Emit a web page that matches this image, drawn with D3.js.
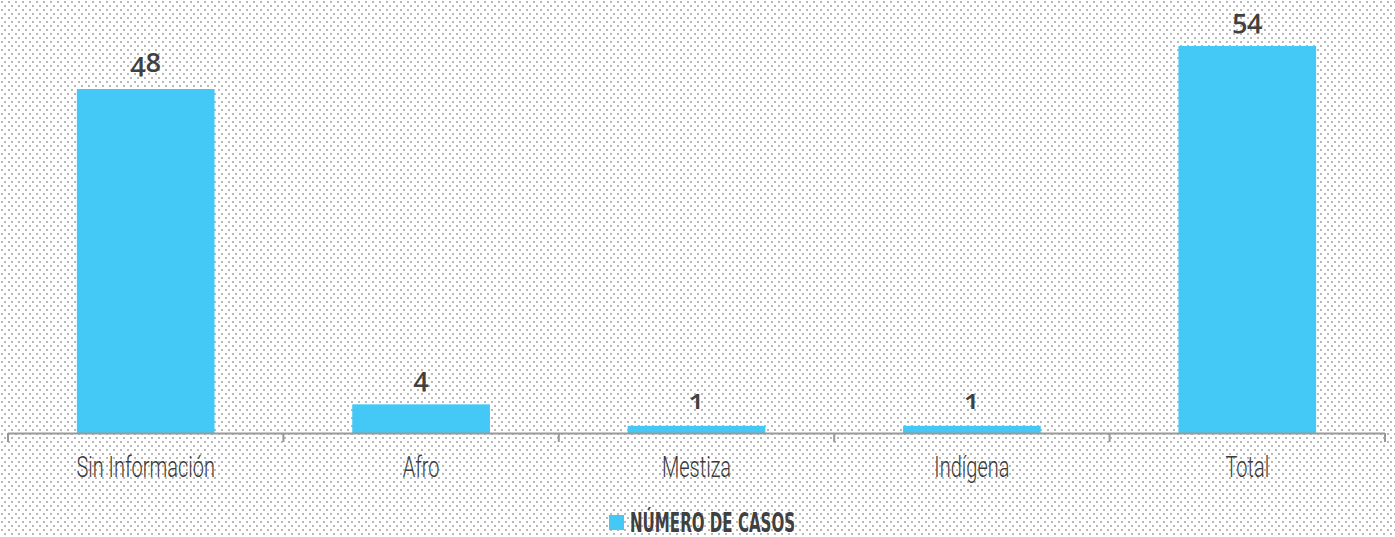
<!DOCTYPE html>
<html><head><meta charset="utf-8">
<script src="https://cdn.jsdelivr.net/npm/d3@7"></script>
<style>
html,body{margin:0;padding:0;background:#fff;}
svg{display:block;}
</style></head>
<body>
<svg id="chart" width="1395" height="537"></svg>
<script>
const categories = ["Sin Información","Afro","Mestiza","Indígena","Total"];
const values = [48,4,1,1,54];
const seriesName = "NÚMERO DE CASOS";

const W=1395,H=537;
const svg=d3.select("#chart");
const defs=svg.append("defs");
const pat=defs.append("pattern").attr("id","dots").attr("patternUnits","userSpaceOnUse")
  .attr("width",7).attr("height",8);
pat.append("rect").attr("x",1).attr("y",1).attr("width",2).attr("height",2).attr("fill","#b8b8b8");
pat.append("rect").attr("x",4).attr("y",5).attr("width",2).attr("height",2).attr("fill","#b8b8b8");
svg.append("rect").attr("width",W).attr("height",H).attr("fill","url(#dots)");

const x=d3.scaleBand().domain(categories).range([8,1385]).paddingInner(0).paddingOuter(0);
const y=d3.scaleLinear().domain([0,54]).range([433,46]);
const bw=x.bandwidth()*0.5;
const color="#44c8f5";

svg.append("g").selectAll("rect").data(categories).join("rect")
  .attr("x",d=>x(d)+(x.bandwidth()-bw)/2)
  .attr("y",(d,i)=>y(values[i]))
  .attr("width",bw)
  .attr("height",(d,i)=>y(0)-y(values[i]))
  .attr("fill",color);

// axis
const axisG=svg.append("g");
axisG.append("line").attr("x1",8).attr("x2",1385).attr("y1",433.5).attr("y2",433.5)
  .attr("stroke","#999").attr("stroke-width",2);
const tickPos=categories.map(d=>x(d)).concat([x.range()[1]]);
axisG.selectAll("line.tick").data(tickPos).join("line").attr("class","tick")
  .attr("x1",d=>d).attr("x2",d=>d).attr("y1",433).attr("y2",442)
  .attr("stroke","#999").attr("stroke-width",2);

const condFont="'DejaVu Sans Condensed','DejaVu Sans',sans-serif";
// category labels (condensed via horizontal scale)
svg.append("g").selectAll("text").data(categories).join("text")
  .attr("transform",d=>`translate(${x(d)+x.bandwidth()/2},477) scale(0.69,1)`)
  .attr("text-anchor","middle")
  .attr("font-family","Roboto,sans-serif").attr("font-weight",300)
  .attr("font-size",29).attr("fill","#3a3a3a")
  .text(d=>d);

// value labels
svg.append("g").selectAll("text").data(categories).join("text")
  .attr("x",d=>x(d)+x.bandwidth()/2).attr("y",(d,i)=>y(values[i])-17)
  .attr("text-anchor","middle")
  .attr("font-family","'Open Sans',sans-serif").attr("font-weight",600)
  .style("font-variant-numeric","oldstyle-nums")
  .style("font-feature-settings","'onum' 1")
  .attr("font-size",27).attr("fill","#404040")
  .text((d,i)=>values[i]);

// legend
const lg=svg.append("g");
lg.append("rect").attr("x",609).attr("y",515).attr("width",15).attr("height",15).attr("fill",color);
lg.append("text").attr("transform","translate(630,532) scale(0.645,1)")
  .attr("font-family",condFont)
  .attr("font-weight",700).attr("font-size",26).attr("fill","#404040")
  .text(seriesName);
</script>
</body></html>
